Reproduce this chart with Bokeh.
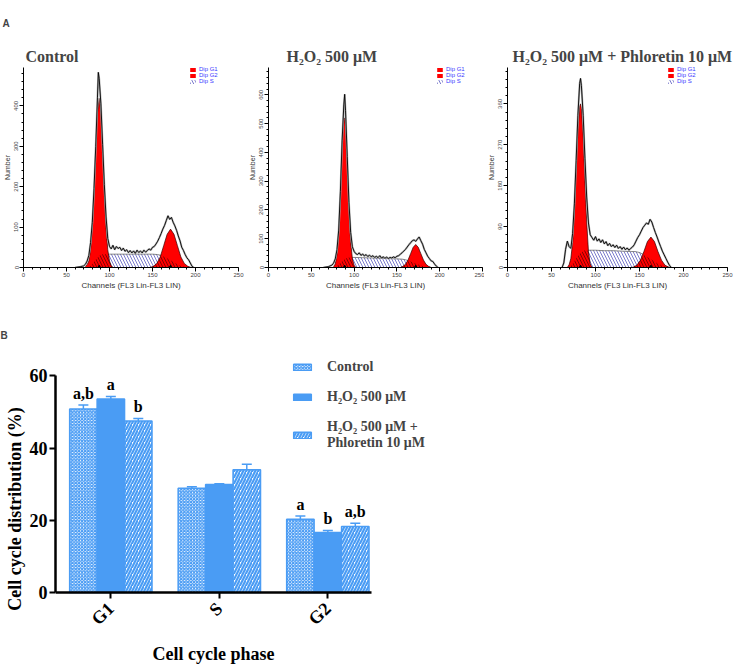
import math
import numpy as np
from bokeh.plotting import figure
from bokeh.models import (Range1d, Legend, LegendItem, Whisker, TeeHead, Title,
                          ColumnDataSource, FixedTicker, SingleIntervalTicker)
from bokeh.layouts import column, row
from bokeh.embed import file_html
from bokeh.resources import INLINE
from bokeh.core.properties import value

SERIF = "Liberation Serif"
SANS = "Liberation Sans"

# ---------------- Panel A data (flow cytometry histograms) ----------------
titles = ["Control", "H\u2082O\u2082 500 \u03bcM", "H\u2082O\u2082 500 \u03bcM + Phloretin 10 \u03bcM"]

# Control
ctrl_raw_ch = [60, 66, 70, 72, 74, 76, 78, 80, 82, 84, 86, 87, 88, 90, 92, 94, 96, 98, 100, 102, 104, 106, 108, 110,
               112, 114, 116, 118, 120, 122, 124, 126, 128, 130, 132, 134, 136, 138, 140, 142, 144, 146, 148, 150,
               152, 154, 156, 158, 160, 162, 164, 166, 168, 170, 172, 174, 176, 178, 180, 182, 184, 186, 188, 190,
               192, 194, 196, 198]
ctrl_raw_n = [0, 2, 4, 8, 16, 30, 62, 112, 195, 300, 420, 483, 468, 405, 305, 205, 125, 72, 52, 46, 55, 44, 52, 47,
              50, 42, 48, 40, 44, 37, 42, 36, 41, 35, 43, 37, 41, 36, 43, 38, 42, 46, 43, 50,
              52, 58, 65, 74, 84, 95, 104, 116, 128, 119, 124, 112, 103, 92, 78, 66, 50, 42, 32, 24,
              19, 11, 3, 0]
ctrl_g1_ch = [72, 74, 76, 78, 80, 82, 84, 86, 88, 90, 92, 94, 96, 98, 100, 102, 104]
ctrl_g1_n = [3, 7, 16, 44, 98, 186, 292, 383, 419, 383, 292, 186, 98, 44, 16, 5, 0]
ctrl_g2_ch = [147, 151, 155, 159, 163, 167, 171, 175, 179, 183, 187, 191, 195]
ctrl_g2_n = [0, 3, 10, 26, 54, 82, 95, 82, 54, 26, 10, 3, 0]
ctrl_s_ch = [76, 80, 84, 88, 92, 96, 100, 110, 120, 130, 140, 150, 156, 160, 165, 170, 175, 180, 185, 190]
ctrl_s_n = [0, 8, 20, 29, 33, 33, 33, 33, 33, 33, 33, 33, 32, 30, 25, 19, 13, 7, 3, 0]
ctrl_ov1_ch = [76, 80, 84, 88, 92, 96, 98, 100, 102, 104]
ctrl_ov1_n = [0, 8, 20, 29, 33, 33, 33, 16, 5, 0]
ctrl_ov2_ch = [149, 151, 155, 159, 163, 167, 171, 175, 179, 183, 187, 191]
ctrl_ov2_n = [0, 3, 10, 26, 27, 23, 18, 13, 8, 4, 2, 0]
ctrl_means = [88, 171]

# H2O2 500 uM
h2o2_raw_ch = [64, 70, 74, 76, 78, 80, 82, 84, 86, 88, 89, 90, 92, 94, 96, 98, 100, 102, 104, 106, 108, 110,
               112, 114, 116, 118, 120, 122, 124, 126, 128, 130, 132, 134, 136, 138, 140, 142, 144, 146, 148, 150,
               152, 154, 156, 158, 160, 162, 164, 166, 168, 170, 172, 174, 176, 178, 180, 182, 184, 186, 188, 190,
               192, 194, 196, 198]
h2o2_raw_n = [0, 3, 8, 15, 30, 62, 130, 265, 440, 565, 602, 545, 385, 225, 122, 72, 56, 48, 45, 51, 42, 47,
              40, 45, 38, 43, 37, 41, 35, 39, 34, 41, 33, 37, 32, 36, 31, 35, 33, 37, 34, 39,
              41, 46, 51, 57, 63, 71, 79, 86, 93, 96, 91, 99, 106, 93, 81, 63, 51, 39, 31, 23,
              21, 12, 5, 0]
h2o2_g1_ch = [76, 78, 80, 82, 84, 86, 88, 89, 90, 92, 94, 96, 98, 100, 102]
h2o2_g1_n = [3, 12, 45, 120, 250, 420, 515, 520, 490, 360, 200, 90, 30, 8, 0]
h2o2_g2_ch = [154, 157, 160, 163, 166, 169, 172, 175, 178, 181, 184, 187, 190]
h2o2_g2_n = [0, 4, 11, 26, 48, 70, 80, 70, 48, 26, 11, 4, 0]
h2o2_s_ch = [78, 82, 86, 90, 94, 100, 110, 120, 130, 140, 150, 156, 160, 165, 170, 175, 180, 185, 190]
h2o2_s_n = [0, 10, 22, 31, 35, 35, 34, 33, 32, 31, 30, 29, 27, 22, 16, 10, 5, 2, 0]
h2o2_ov1_ch = [78, 82, 86, 90, 94, 96, 98, 100, 102]
h2o2_ov1_n = [0, 10, 22, 31, 35, 35, 30, 8, 0]
h2o2_ov2_ch = [154, 157, 160, 163, 166, 169, 172, 175, 178, 181, 184, 187, 190]
h2o2_ov2_n = [0, 4, 11, 24, 21, 17, 14, 10, 7, 4, 2, 1, 0]
h2o2_means = [89, 172]

# H2O2 500 uM + Phloretin 10 uM
phlo_raw_ch = [62, 64, 66, 68, 70, 72, 74, 76, 78, 80, 82, 83, 84, 86, 88, 90, 92, 94, 96, 98, 100, 102, 104,
               106, 108, 110, 112, 114, 116, 118, 120, 122, 124, 126, 128, 130, 132, 134, 136, 138, 140, 142,
               144, 146, 148, 150, 152, 154, 156, 158, 160, 162, 164, 166, 168, 170, 172, 174, 176, 178, 180,
               182, 184, 186]
phlo_raw_n = [0, 10, 40, 58, 46, 42, 75, 140, 235, 335, 405, 416, 400, 335, 240, 155, 98, 72, 66, 60, 68, 58, 63,
              55, 61, 52, 57, 48, 53, 46, 50, 44, 49, 42, 46, 40, 45, 39, 43, 38, 42, 45,
              50, 58, 66, 72, 80, 88, 93, 98, 95, 106, 100, 88, 77, 67, 56, 46, 36, 28, 20,
              12, 5, 0]
phlo_g1_ch = [68, 70, 72, 74, 76, 78, 80, 82, 83, 84, 86, 88, 90, 92, 94, 96]
phlo_g1_n = [0, 6, 20, 55, 120, 210, 300, 355, 360, 350, 290, 190, 100, 35, 8, 0]
phlo_g2_ch = [141, 143, 147, 151, 155, 159, 163, 167, 171, 175, 179, 183, 185]
phlo_g2_n = [0, 1, 5, 16, 35, 57, 67, 57, 35, 16, 5, 1, 0]
phlo_s_ch = [70, 74, 78, 82, 86, 90, 100, 110, 120, 130, 140, 145, 150, 155, 160, 165, 170, 175, 180, 184]
phlo_s_n = [0, 8, 20, 30, 36, 38, 38, 37, 37, 36, 35, 35, 33, 28, 22, 16, 10, 5, 2, 0]
phlo_ov1_ch = [70, 74, 78, 82, 86, 88, 90, 92, 94, 96]
phlo_ov1_n = [0, 8, 20, 30, 36, 38, 38, 35, 8, 0]
phlo_ov2_ch = [141, 143, 147, 151, 155, 159, 163, 167, 171, 175, 179, 183, 185]
phlo_ov2_n = [0, 1, 5, 16, 28, 23, 18, 13, 8, 5, 2, 1, 0]
phlo_means = [83, 163]

hist_ymax = [495, 695, 440]
hist_ytick = [100, 100, 90]
legend_labels = ["Dip G1", "Dip G2", "Dip S"]

# ---------------- Panel B data (bar chart) ----------------
phases = ["G1", "S", "G2"]
groups = ["Control", "H\u2082O\u2082 500 \u03bcM", "H\u2082O\u2082 500 \u03bcM +\nPhloretin 10 \u03bcM"]
ctrl_mean = [50.8, 28.9, 20.3]
ctrl_err = [1.1, 0.4, 0.9]
h2o2_mean = [53.6, 29.9, 16.6]
h2o2_err = [0.7, 0.2, 0.6]
phlo_mean = [47.5, 34.0, 18.3]
phlo_err = [0.7, 1.5, 0.9]
ctrl_letters = ["a,b", "", "a"]
h2o2_letters = ["a", "", "b"]
phlo_letters = ["b", "", "a,b"]
y_ticks_b = [0, 20, 40, 60]


def histogram(title, raw, g1, g2, s, ov1, ov2, means, ymax, ytick, width, right, toff, leg_x,
              panel_letter=None):
    p = figure(width=width, height=292, x_range=Range1d(0, 250), y_range=Range1d(0, ymax),
               output_backend="svg", toolbar_location=None,
               min_border_left=22, min_border_right=right, min_border_top=67, min_border_bottom=25)
    if panel_letter is None:
        p.title.text = title
        p.title.text_font = SERIF
        p.title.text_font_style = "bold"
        p.title.text_font_size = "16px"
        p.title.align = "left"
        p.title.offset = toff
        p.title.standoff = 6
    else:
        # outer title: panel letter; inner (added) title: panel name
        p.title.text = panel_letter
        p.title.text_font = SANS
        p.title.text_font_style = "bold"
        p.title.text_font_size = "10px"
        p.title.align = "left"
        p.title.offset = -21
        p.title.standoff = 28
        p.add_layout(Title(text=title, align="left", offset=toff, standoff=6, text_font=SERIF,
                           text_font_style="bold", text_font_size="16px"), "above")
    p.outline_line_color = None
    p.xgrid.visible = False
    p.ygrid.visible = False

    s_r = p.varea(x=s[0], y1=0, y2=s[1], fill_color="white", hatch_pattern="\\",
                  hatch_color="#3c3cb4", hatch_scale=6, hatch_weight=0.8, hatch_alpha=0.85)
    p.line(s[0], s[1], line_color="#555555", line_width=0.7)
    g1_r = p.varea(x=g1[0], y1=0, y2=g1[1], fill_color="#ff0000")
    g2_r = p.varea(x=g2[0], y1=0, y2=g2[1], fill_color="#ff0000")
    for ov in (ov1, ov2):
        p.varea(x=ov[0], y1=0, y2=ov[1], fill_alpha=0, hatch_pattern="\\",
                hatch_color="#4a0000", hatch_scale=6, hatch_weight=0.8, hatch_alpha=0.85)
    p.line(g1[0], g1[1], line_color="#330000", line_width=0.7)
    p.line(g2[0], g2[1], line_color="#330000", line_width=0.7)
    p.line(raw[0], raw[1], line_color="#b4b4b4", line_width=2.0)
    p.line(raw[0], raw[1], line_color="black", line_width=0.9)
    p.scatter(means, [0, 0], marker="triangle", size=4, color="black")

    leg = Legend(items=[LegendItem(label=legend_labels[0], renderers=[g1_r]),
                        LegendItem(label=legend_labels[1], renderers=[g2_r]),
                        LegendItem(label=legend_labels[2], renderers=[s_r])],
                 location=(leg_x, 183), orientation="vertical",
                 background_fill_alpha=0, border_line_color=None,
                 label_text_font=SANS, label_text_font_size="6px", label_text_color="#3a3aff",
                 glyph_width=7, glyph_height=5, label_height=6, label_standoff=3,
                 spacing=0, padding=0, margin=0)
    p.add_layout(leg)

    for ax in (p.xaxis[0], p.yaxis[0]):
        ax.axis_line_color = "black"
        ax.axis_line_width = 1
        ax.major_tick_in = 0
        ax.major_tick_out = 4
        ax.minor_tick_in = 0
        ax.minor_tick_out = 2
        ax.major_label_text_font = SANS
        ax.major_label_text_font_size = "6px"
        ax.major_label_text_color = "#444444"
        ax.major_label_standoff = 1
        ax.axis_label_text_font = SANS
        ax.axis_label_text_font_style = "normal"
        ax.axis_label_text_color = "#333333"
        ax.axis_label_standoff = 1
    p.xaxis.ticker = SingleIntervalTicker(interval=50, num_minor_ticks=5)
    p.yaxis.ticker = SingleIntervalTicker(interval=ytick, num_minor_ticks=5)
    p.yaxis.major_label_orientation = "vertical"
    p.xaxis.axis_label = "Channels (FL3 Lin-FL3 LIN)"
    p.xaxis.axis_label_text_font_size = "8px"
    p.yaxis.axis_label = "Number"
    p.yaxis.axis_label_text_font_size = "7px"
    return p


f1 = histogram(titles[0], (ctrl_raw_ch, ctrl_raw_n), (ctrl_g1_ch, ctrl_g1_n), (ctrl_g2_ch, ctrl_g2_n),
               (ctrl_s_ch, ctrl_s_n), (ctrl_ov1_ch, ctrl_ov1_n), (ctrl_ov2_ch, ctrl_ov2_n), ctrl_means,
               hist_ymax[0], hist_ytick[0], 245, 7, 2, 166, panel_letter="A")
f2 = histogram(titles[1], (h2o2_raw_ch, h2o2_raw_n), (h2o2_g1_ch, h2o2_g1_n), (h2o2_g2_ch, h2o2_g2_n),
               (h2o2_s_ch, h2o2_s_n), (h2o2_ov1_ch, h2o2_ov1_n), (h2o2_ov2_ch, h2o2_ov2_n), h2o2_means,
               hist_ymax[1], hist_ytick[1], 239, 2, 18, 168)
f3 = histogram(titles[2], (phlo_raw_ch, phlo_raw_n), (phlo_g1_ch, phlo_g1_n), (phlo_g2_ch, phlo_g2_n),
               (phlo_s_ch, phlo_s_n), (phlo_ov1_ch, phlo_ov1_n), (phlo_ov2_ch, phlo_ov2_n), phlo_means,
               hist_ymax[2], hist_ytick[2], 256, 13, 5, 160)

# ---------------- Panel B ----------------
BLUE = "#4a9cf4"
pb = figure(width=478, height=375, x_range=Range1d(-0.51, 3.278), y_range=Range1d(-20.74, 67),
            output_backend="svg", toolbar_location=None,
            min_border_left=55, min_border_right=12, min_border_top=58, min_border_bottom=0)
pb.outline_line_color = None
pb.xgrid.visible = False
pb.ygrid.visible = False

bw = 0.253
offsets = [-bw, 0.0, bw]
means = [ctrl_mean, h2o2_mean, phlo_mean]
errs = [ctrl_err, h2o2_err, phlo_err]
letters = [ctrl_letters, h2o2_letters, phlo_letters]
styles = [
    dict(fill_color="#ffffff", hatch_pattern="x", hatch_color=BLUE, hatch_scale=3.2, hatch_weight=1.3),
    dict(fill_color=BLUE),
    dict(fill_color="#ffffff", hatch_pattern="/", hatch_color=BLUE, hatch_scale=6, hatch_weight=2.2),
]
bar_renderers = []
for i in range(3):
    xs = np.arange(len(phases)) + offsets[i]
    m = np.array(means[i])
    e = np.array(errs[i])
    src = ColumnDataSource(dict(x=xs, top=m, upper=m + e, lab=letters[i]))
    r = pb.vbar(x="x", top="top", width=bw, bottom=0, source=src, line_color=BLUE, line_width=1.5, **styles[i])
    bar_renderers.append(r)
    w = Whisker(base="x", lower="top", upper="upper", source=src, dimension="height",
                line_color=BLUE, line_width=1.5,
                upper_head=TeeHead(size=10, line_color=BLUE, line_width=1.5), lower_head=None)
    pb.add_layout(w)
    pb.text(x="x", y="upper", text="lab", source=src, text_align="center", text_baseline="bottom",
            y_offset=-3, text_font=value(SERIF), text_font_style="bold", text_font_size="16px",
            text_color="black")

legB = Legend(items=[LegendItem(label=groups[k], renderers=[bar_renderers[k]]) for k in range(3)],
              location=(236, 216), orientation="vertical", background_fill_alpha=0, border_line_color=None,
              label_text_font=SERIF, label_text_font_style="bold", label_text_font_size="14px",
              label_text_line_height=1.5,
              glyph_width=22, glyph_height=8, label_standoff=14, spacing=14, padding=0, margin=0)
pb.add_layout(legB)

for ax in (pb.xaxis[0], pb.yaxis[0]):
    ax.axis_line_color = "black"
    ax.axis_line_width = 2.5
    ax.major_tick_line_width = 2
    ax.major_tick_in = 0
    ax.major_tick_out = 6
    ax.minor_tick_line_color = None
    ax.major_label_text_font = SERIF
    ax.major_label_text_font_style = "bold"
    ax.major_label_text_font_size = "18px"
    ax.major_label_text_color = "black"
    ax.axis_label_text_font = SERIF
    ax.axis_label_text_font_style = "bold"
    ax.axis_label_text_font_size = "18px"
    ax.axis_label_text_color = "black"
pb.yaxis.ticker = FixedTicker(ticks=y_ticks_b)
pb.yaxis.bounds = (0, 60)
pb.yaxis.major_label_standoff = 2
pb.yaxis.axis_label_standoff = 2
pb.yaxis.axis_label = "Cell cycle distribution (%)"
pb.xaxis.ticker = FixedTicker(ticks=list(range(len(phases))))
pb.xaxis.bounds = (-0.51, 2.4)
pb.xaxis.fixed_location = 0
pb.xaxis.major_label_overrides = {k: phases[k] for k in range(len(phases))}
pb.xaxis.major_label_orientation = math.pi / 4
pb.xaxis.major_label_standoff = 7
pb.xaxis.axis_label = "Cell cycle phase"
pb.xaxis.axis_label_standoff = 5

pb.add_layout(Title(text="B", align="left", offset=-55, standoff=20, text_font=SANS,
                    text_font_style="bold", text_font_size="10px"), "above")

layout = column(row(f1, f2, f3), pb)
open("out.html", "w").write(file_html(layout, INLINE))
